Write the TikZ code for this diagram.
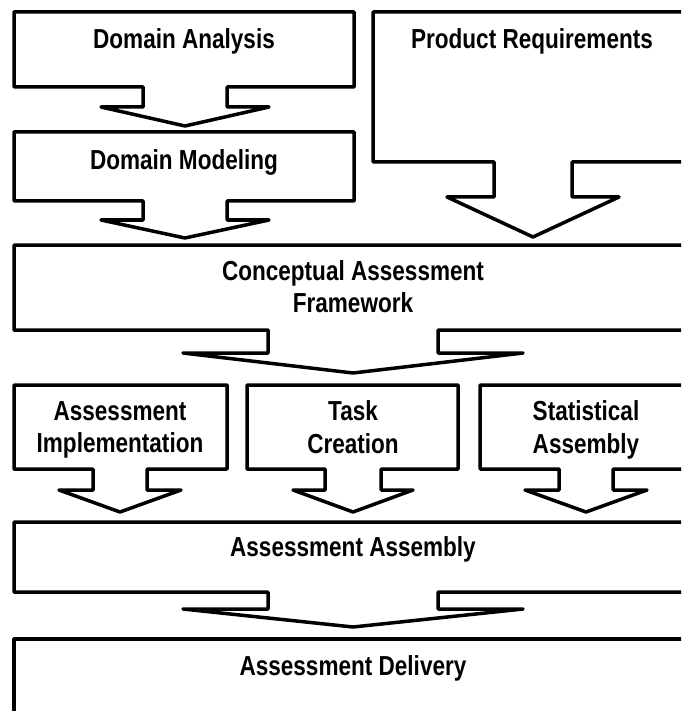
\documentclass[tikz,border=0pt]{standalone}
\usepackage{fontspec}
\setmainfont{Liberation Sans}[FakeStretch=0.82]
\begin{document}
% Block with an arrow-shaped tail below it:
% #1 left, #2 top, #3 right, #4 bottom, #5 arrow axis x,
% #6 half stem width, #7 half head width, #8 head base y, #9 tip y
\newcommand\blockarrow[9]{%
  \draw[outline] (#1,#2) -- (#3,#2) -- (#3,#4) -- ({#5+#6},#4) -- ({#5+#6},#8)
    -- ({#5+#7},#8) -- (#5,#9) -- ({#5-#7},#8) -- ({#5-#6},#8) -- ({#5-#6},#4)
    -- (#1,#4) -- cycle;}
\begin{tikzpicture}[x=1pt, y=-1pt,
  outline/.style={draw=black, line width=3.5pt, line join=round},
  label/.style={inner sep=0pt, align=center,
    font=\fontsize{27.5}{32.5}\selectfont\bfseries},
  single/.style={label, text height=20pt, text depth=6pt}]
\useasboundingbox (0,0) rectangle (681,711);
\clip (0,0) rectangle (681,711);

% first column
\blockarrow{14}{12}{354}{87}{185}{42}{84}{107}{126}
\blockarrow{14}{132}{354}{201}{185}{42}{84}{220}{238}
% requirements column
\blockarrow{373}{12}{700}{162}{533}{39}{86}{197}{237}
% framework
\blockarrow{14}{245}{700}{330}{353}{85}{170}{353}{373}
% three parallel activities
\blockarrow{14}{385}{227}{469}{120}{27}{61}{490}{512}
\blockarrow{247}{385}{458}{469}{353}{28}{60}{490}{512}
\blockarrow{480}{385}{700}{469}{586}{27}{61}{490}{512}
% assembly
\blockarrow{14}{522}{700}{592}{353}{85}{170}{609}{627}
% delivery (runs off the page)
\draw[outline] (14,730) -- (14,639) -- (700,639);

\node[single] (da) at (184,42) {Domain Analysis};
\node[single] (dm) at (184,163) {Domain Modeling};
\node[single] (pr) at (532,42) {Product Requirements};
\node[label] (caf) at (353,286.5) {Conceptual Assessment\\Framework};
\node[label] (ai) at (120,430) {Assessment\\Implementation};
\node[label] (tc) at (353,427) {Task\\Creation};
\node[label] (sa) at (586,430) {Statistical\\Assembly};
\node[single] (aa) at (353,549) {Assessment Assembly};
\node[single] (ad) at (353,668) {Assessment Delivery};
\end{tikzpicture}
\end{document}
